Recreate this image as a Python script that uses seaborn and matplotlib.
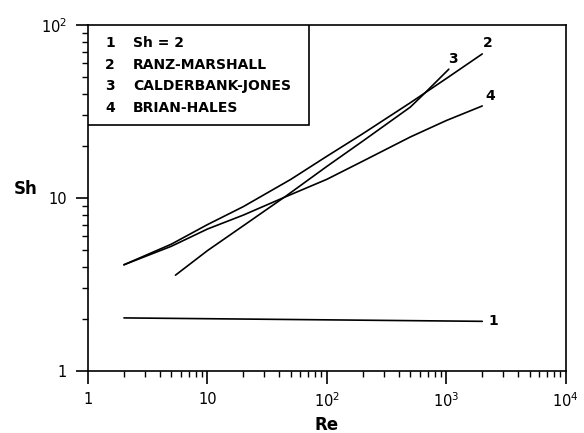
import matplotlib
matplotlib.use("Agg")
import matplotlib.pyplot as plt
from matplotlib.patches import Rectangle
from matplotlib.ticker import FixedLocator, FixedFormatter, LogLocator, NullFormatter
import numpy as np
import pandas as pd
import seaborn as sns

# Sherwood number correlations versus Reynolds number
re_1 = [2, 2000]
sh_1 = [2.02, 1.93]

re_2 = [2, 5, 10, 20, 50, 100, 200, 500, 1000, 2000]
sh_2 = [4.1, 5.4, 7.0, 8.9, 12.8, 17.4, 23.5, 35.5, 49.0, 68.0]

re_3 = [5.4, 10, 20, 46, 100, 200, 500, 640, 1050]
sh_3 = [3.57, 4.95, 6.9, 10.3, 15.2, 21.3, 33.5, 39.5, 55.5]

re_4 = [2, 5, 10, 20, 46, 100, 200, 500, 1000, 2000]
sh_4 = [4.1, 5.25, 6.6, 7.95, 10.2, 12.8, 16.3, 22.5, 28.0, 34.0]

curve_ids = ["1", "2", "3", "4"]
curve_names = ["Sh = 2", "RANZ-MARSHALL", "CALDERBANK-JONES", "BRIAN-HALES"]

x_ticks = [1, 10, 100, 1000, 10000]
x_tick_labels = ["1", "10", "$10^2$", "$10^3$", "$10^4$"]
y_ticks = [1, 10, 100]
y_tick_labels = ["1", "10", "$10^2$"]

sns.set_style("ticks")
plt.rcParams["font.family"] = ["DejaVu Sans"]
plt.rcParams["text.color"] = "black"
plt.rcParams["axes.labelcolor"] = "black"
plt.rcParams["xtick.color"] = "black"
plt.rcParams["ytick.color"] = "black"
plt.rcParams["axes.edgecolor"] = "black"

fig = plt.figure(figsize=(5.84, 4.33), dpi=100)
ax = fig.add_axes([0.1507, 0.1439, 0.8180, 0.7984])

series = [(re_1, sh_1), (re_2, sh_2), (re_3, sh_3), (re_4, sh_4)]
frames = []
for cid, (xs, ys) in zip(curve_ids, series):
    frames.append(pd.DataFrame({"Re": xs, "Sh": ys, "curve": cid}))
df = pd.concat(frames, ignore_index=True)

for cid in curve_ids:
    sub = df[df["curve"] == cid]
    sns.lineplot(data=sub, x="Re", y="Sh", ax=ax, color="black",
                 linewidth=1.2, sort=False, estimator=None)

ax.set_xscale("log")
ax.set_yscale("log")
ax.set_xlim(1, 1e4)
ax.set_ylim(1, 100)

ax.xaxis.set_major_locator(FixedLocator(x_ticks))
ax.xaxis.set_major_formatter(FixedFormatter(x_tick_labels))
ax.yaxis.set_major_locator(FixedLocator(y_ticks))
ax.yaxis.set_major_formatter(FixedFormatter(y_tick_labels))
ax.xaxis.set_minor_locator(LogLocator(base=10, subs=np.arange(2, 10), numticks=20))
ax.yaxis.set_minor_locator(LogLocator(base=10, subs=np.arange(2, 10), numticks=20))
ax.xaxis.set_minor_formatter(NullFormatter())
ax.yaxis.set_minor_formatter(NullFormatter())

ax.tick_params(which="major", direction="out", length=9, width=1.2,
               labelsize=10.5, colors="black", pad=6)
ax.tick_params(which="minor", direction="out", length=4, width=1.0,
               colors="black")
for sp in ax.spines.values():
    sp.set_linewidth(1.2)
    sp.set_color("black")

ax.set_xlabel("Re", fontsize=12, fontweight="bold", labelpad=4,
              color="black")
ax.set_ylabel("Sh", fontsize=12, fontweight="bold", rotation=0,
              labelpad=4, color="black")
ax.yaxis.set_label_coords(-0.13, 0.5)

# curve numbers at the line ends
offsets = [(8, 0), (4, 8), (3, 7), (6, 7)]
for cid, (xs, ys), off in zip(curve_ids, series, offsets):
    ax.annotate(cid, xy=(xs[-1], ys[-1]), xytext=off,
                textcoords="offset points", ha="center", va="center",
                fontsize=10, fontweight="bold", color="black")

# key box in the upper-left corner
ax.add_patch(Rectangle((0, 0.711), 0.4626, 0.289, transform=ax.transAxes,
                       facecolor="white", edgecolor="black", linewidth=1.2,
                       zorder=3))
rows_y = [0.947, 0.884, 0.823, 0.761]
for cid, name, yy in zip(curve_ids, curve_names, rows_y):
    ax.text(0.046, yy, cid, transform=ax.transAxes, ha="center",
            va="center", fontsize=10, fontweight="bold", zorder=4,
            color="black")
    ax.text(0.094, yy, name, transform=ax.transAxes, ha="left",
            va="center", fontsize=10, fontweight="bold", zorder=4,
            color="black")

fig.savefig("out.png", dpi=100, facecolor="white")
